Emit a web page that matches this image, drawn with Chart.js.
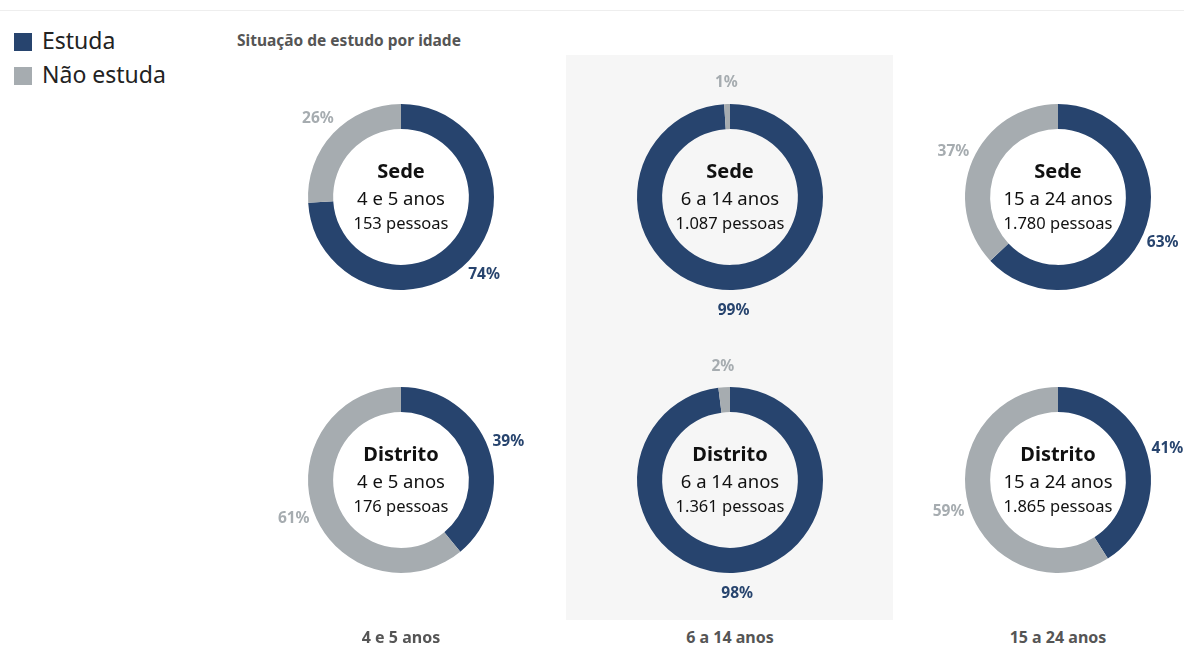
<!DOCTYPE html>
<html>
<head>
<meta charset="utf-8">
<script src="https://cdn.jsdelivr.net/npm/chart.js@4/dist/chart.umd.min.js"></script>
<style>
  body { margin: 0; width: 1184px; height: 645px; background: #fff; position: relative; overflow: hidden; font-family: "Noto Sans", sans-serif; }
  .linha { position: absolute; left: 0; top: 10px; width: 1184px; height: 1px; background: #eeeeee; }
  .legenda { position: absolute; left: 14px; font-size: 23px; color: #222; line-height: 24px; }
  .legenda span { display: inline-block; width: 18px; height: 18px; vertical-align: -2px; margin-right: 10px; }
  .titulo { position: absolute; left: 237px; top: 29px; font-size: 15.5px; font-weight: bold; color: #555; }
  .faixa { position: absolute; left: 566px; top: 55px; width: 327px; height: 565px; background: #f6f6f6; }
  .rotulo { position: absolute; top: 626px; width: 200px; text-align: center; font-size: 16px; font-weight: bold; color: #555; }
  canvas { position: absolute; }
</style>
</head>
<body>
<div class="linha"></div>
<div class="legenda" style="top:28px"><span style="background:#27446e"></span>Estuda</div>
<div class="legenda" style="top:62px"><span style="background:#a6acb0"></span>Não estuda</div>
<div class="titulo">Situação de estudo por idade</div>
<div class="faixa"></div>
<div id="graficos"></div>

<script>
// dados
const faixas = ['4 e 5 anos', '6 a 14 anos', '15 a 24 anos'];
const sedeEstuda = [74, 99, 63];
const sedeNaoEstuda = [26, 1, 37];
const distritoEstuda = [39, 98, 41];
const distritoNaoEstuda = [61, 2, 59];
const sedePessoas = ['153', '1.087', '1.780'];
const distritoPessoas = ['176', '1.361', '1.865'];

const COR_ESTUDA = '#27446e';
const COR_NAO = '#a6acb0';
const colunasX = [401, 730, 1058];
const linhasY = [197, 480];

// rótulos de porcentagem e texto central
const textosPlugin = {
    id: 'textos',
    afterDraw(chart) {
        const ctx = chart.ctx;
        const meta = chart.getDatasetMeta(0);
        const cfg = chart.options.plugins.textos;
        const cx = meta.data[0].x, cy = meta.data[0].y;
        ctx.save();
        ctx.textAlign = 'center';
        ctx.textBaseline = 'middle';
        meta.data.forEach((arco, i) => {
            const meio = (arco.startAngle + arco.endAngle) / 2;
            const r = 114;
            ctx.fillStyle = i === 0 ? COR_ESTUDA : COR_NAO;
            ctx.font = 'bold 15.5px "Noto Sans"';
            ctx.fillText(chart.data.datasets[0].data[i] + '%', cx + Math.cos(meio) * r, cy + Math.sin(meio) * r);
        });
        ctx.fillStyle = '#111';
        ctx.font = 'bold 20px "Noto Sans"';
        ctx.fillText(cfg.local, cx, cy - 25);
        ctx.font = '18.5px "Noto Sans"';
        ctx.fillText(cfg.faixa, cx, cy + 3);
        ctx.font = '16.5px "Noto Sans"';
        ctx.fillText(cfg.pessoas + ' pessoas', cx, cy + 27);
        ctx.restore();
    }
};

function criarRosca(x, y, estuda, nao, local, faixa, pessoas) {
    const canvas = document.createElement('canvas');
    canvas.width = 320;
    canvas.height = 290;
    canvas.style.left = (x - 160) + 'px';
    canvas.style.top = (y - 145) + 'px';
    canvas.style.width = '320px';
    canvas.style.height = '290px';
    document.getElementById('graficos').appendChild(canvas);

    new Chart(canvas, {
        type: 'doughnut',
        data: {
            labels: ['Estuda', 'Não estuda'],
            datasets: [{
                data: [estuda, nao],
                backgroundColor: [COR_ESTUDA, COR_NAO],
                borderWidth: 0
            }]
        },
        options: {
            responsive: false,
            animation: false,
            radius: 93,
            cutout: '73%',
            plugins: {
                legend: { display: false },
                tooltip: { enabled: false },
                textos: { local: local, faixa: faixa, pessoas: pessoas }
            }
        },
        plugins: [textosPlugin]
    });
}

faixas.forEach((f, i) => {
    criarRosca(colunasX[i], linhasY[0], sedeEstuda[i], sedeNaoEstuda[i], 'Sede', f, sedePessoas[i]);
    criarRosca(colunasX[i], linhasY[1], distritoEstuda[i], distritoNaoEstuda[i], 'Distrito', f, distritoPessoas[i]);

    const rot = document.createElement('div');
    rot.className = 'rotulo';
    rot.style.left = (colunasX[i] - 100) + 'px';
    rot.textContent = f;
    document.body.appendChild(rot);
});
</script>
</body>
</html>
